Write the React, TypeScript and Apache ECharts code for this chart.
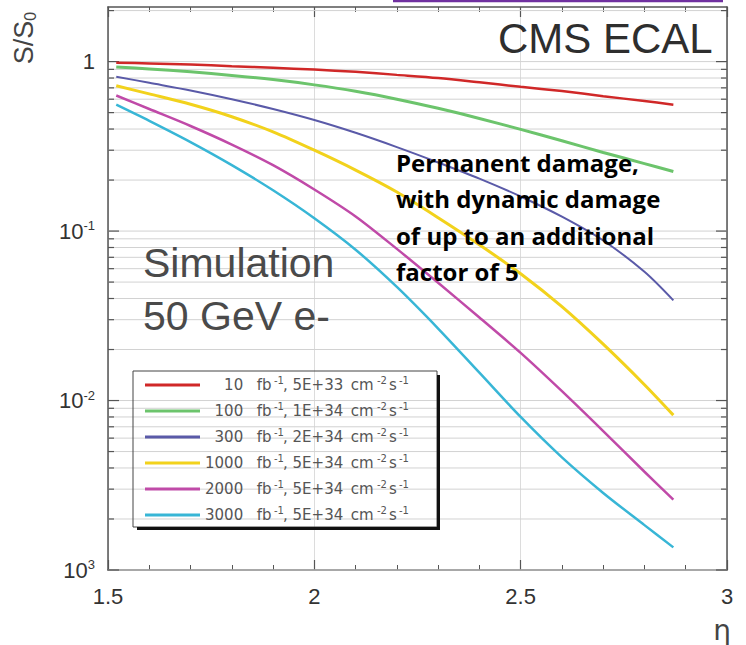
import React, { useEffect, useRef } from 'react';
import * as echarts from 'echarts';

// eta values at which curves are sampled
const eta = [1.52, 1.6, 1.7, 1.8, 1.9, 2.0, 2.1, 2.2, 2.3, 2.4, 2.5, 2.6, 2.7, 2.8, 2.87];

// S/S0 per scenario
const s10 = [0.986, 0.975, 0.96, 0.94, 0.92, 0.897, 0.87, 0.835, 0.8, 0.755, 0.71, 0.67, 0.625, 0.585, 0.557];
const s100 = [0.93, 0.905, 0.87, 0.829, 0.783, 0.729, 0.668, 0.6, 0.53, 0.462, 0.398, 0.341, 0.291, 0.25, 0.2245];
const s300 = [0.815, 0.75, 0.676, 0.6, 0.525, 0.452, 0.38, 0.313, 0.254, 0.204, 0.16, 0.1216, 0.088, 0.0575, 0.039];
const s1000 = [0.72, 0.645, 0.56, 0.473, 0.385, 0.3, 0.229, 0.17, 0.12, 0.083, 0.056, 0.0358, 0.0215, 0.0124, 0.0082];
const s2000 = [0.631, 0.525, 0.417, 0.324, 0.245, 0.176, 0.122, 0.0785, 0.0495, 0.0309, 0.0191, 0.01135, 0.0066, 0.0038, 0.0026];
const s3000 = [0.557, 0.447, 0.335, 0.245, 0.174, 0.119, 0.0776, 0.0468, 0.0266, 0.0146, 0.008, 0.00462, 0.00285, 0.00184, 0.00136];

const seriesValues = [s10, s100, s300, s1000, s2000, s3000];
const lumis = ['10', '100', '300', '1000', '2000', '3000'];
const rates = ['5E+33', '1E+34', '2E+34', '5E+34', '5E+34', '5E+34'];
const colors = ['#d02828', '#6cc46c', '#5a5aa8', '#f2d21c', '#c04aa8', '#38b6d6'];
const widths = [2.5, 3, 2, 3, 2.5, 2.5];

// axis ticks
const xTicks = [1.5, 2, 2.5, 3];
const yGridValues = [
  0.001, 0.002, 0.003, 0.004, 0.005, 0.006, 0.007, 0.008, 0.009,
  0.01, 0.02, 0.03, 0.04, 0.05, 0.06, 0.07, 0.08, 0.09,
  0.1, 0.2, 0.3, 0.4, 0.5, 0.6, 0.7, 0.8, 0.9,
  1, 2,
];
const yDecadeLabels: Record<string, string> = { '-3': '3', '-2': '-2', '-1': '-1' };

const annotationLines = ['Permanent damage,', 'with dynamic damage', 'of up to an additional', 'factor of 5'];

export default function App() {
  const ref = useRef<HTMLDivElement>(null);
  useEffect(() => {
    if (!ref.current) return;
    const chart = echarts.init(ref.current, null, { renderer: 'svg' });
    const names = lumis.map((l, i) => `${l} fb-1, ${rates[i]} cm-2s-1`);
    const xMin = xTicks[0];
    const xMax = xTicks[xTicks.length - 1];
    const yMin = 0.001;
    const yMax = 2.1;

    const axisColor = '#555';
    const xAxisCommon = {
      type: 'value',
      min: xMin,
      max: xMax,
      interval: 0.5,
      axisLine: { show: true, onZero: false, lineStyle: { color: axisColor, width: 1.5 } },
      axisTick: { show: true, inside: true, length: 10, lineStyle: { color: axisColor, width: 1.2 } },
      minorTick: { show: true, splitNumber: 5, length: 5, lineStyle: { color: axisColor, width: 1 } },
    };

    const legendFont = 'DejaVu Sans';
    const legendColor = '#555';
    const big = { fontSize: 15, fontFamily: legendFont, color: legendColor, lineHeight: 20 };
    const small = { fontSize: 10, fontFamily: legendFont, color: legendColor, lineHeight: 10, verticalAlign: 'top' };

    const option: any = {
      animation: false,
      backgroundColor: '#fff',
      grid: { left: 108, right: 19, top: 7, bottom: 75, containLabel: false },
      xAxis: [
        {
          ...xAxisCommon,
          position: 'bottom',
          axisLabel: {
            show: true,
            margin: 15,
            fontSize: 22,
            fontFamily: 'Liberation Sans',
            color: '#333',
            formatter: (v: number) => String(v),
          },
          splitLine: { show: true, lineStyle: { color: '#dcdcdc', width: 1 } },
        },
        {
          ...xAxisCommon,
          position: 'top',
          axisLabel: { show: false },
          splitLine: { show: false },
        },
      ],
      yAxis: [
        {
          type: 'log',
          logBase: 10,
          min: yMin,
          max: yMax,
          position: 'left',
          axisLine: { show: true, lineStyle: { color: axisColor, width: 1.5 } },
          axisTick: { show: false },
          splitLine: { show: false },
          axisLabel: {
            show: true,
            margin: 13,
            showMaxLabel: false,
            formatter: (v: number) => {
              const lg = Math.log10(v);
              const e = Math.round(lg);
              if (Math.abs(lg - e) > 1e-6 || e > 0) return '';
              if (e === 0) return '{n|1}';
              return `{n|10}{s|${yDecadeLabels[String(e)]}}`;
            },
            rich: {
              n: { fontSize: 22, fontFamily: 'Liberation Sans', color: '#333', lineHeight: 24 },
              s: { fontSize: 13, fontFamily: 'Liberation Sans', color: '#333', lineHeight: 12, verticalAlign: 'top' },
            },
          },
        },
        {
          type: 'log',
          logBase: 10,
          min: yMin,
          max: yMax,
          position: 'right',
          axisLine: { show: true, lineStyle: { color: axisColor, width: 1.5 } },
          axisTick: { show: false },
          splitLine: { show: false },
          axisLabel: { show: false },
        },
      ],
      legend: {
        data: names,
        orient: 'vertical',
        left: 145,
        top: 375,
        padding: 0,
        itemGap: 6,
        itemWidth: 55,
        itemHeight: 3,
        icon: 'rect',
        selectedMode: false,
        formatter: (name: string) => {
          const i = names.indexOf(name);
          const num = '\u2007'.repeat(Math.max(0, 4 - lumis[i].length)) + lumis[i];
          return `{num|${num}}{fb| fb}{sup1|-1}{rate|, ${rates[i]}}{cm| cm}{sup2|-2}{s|s}{sup|-1}`;
        },
        textStyle: {
          lineHeight: 20,
          rich: {
            num: { ...big, width: 47 },
            fb: { ...big, width: 22 },
            sup1: { ...small, width: 9 },
            rate: { ...big, width: 63 },
            cm: { ...big, width: 31 },
            sup2: { ...small, width: 12 },
            s: { ...big, width: 10 },
            sup: { ...small },
          },
        },
      },
      series: [
        {
          type: 'custom',
          name: 'grid',
          xAxisIndex: 0,
          yAxisIndex: 0,
          z: 1,
          silent: true,
          data: yGridValues.map((v) => [xMin, v]),
          renderItem: (params: any, api: any) => {
            const v = api.value(1);
            const p0 = api.coord([xMin, v]);
            const p1 = api.coord([xMax, v]);
            const lg = Math.log10(v);
            const major = Math.abs(lg - Math.round(lg)) < 1e-6;
            const tl = major ? 11 : 6;
            return {
              type: 'group',
              children: [
                {
                  type: 'line',
                  shape: { x1: p0[0], y1: p0[1], x2: p1[0], y2: p1[1] },
                  style: { stroke: '#d2d2d2', lineWidth: 1 },
                },
                {
                  type: 'line',
                  shape: { x1: p0[0], y1: p0[1], x2: p0[0] + tl, y2: p0[1] },
                  style: { stroke: axisColor, lineWidth: 1.2 },
                },
                {
                  type: 'line',
                  shape: { x1: p1[0] - tl, y1: p1[1], x2: p1[0], y2: p1[1] },
                  style: { stroke: axisColor, lineWidth: 1.2 },
                },
              ],
            };
          },
        },
        ...seriesValues.map((vals, i) => ({
          type: 'line',
          name: names[i],
          xAxisIndex: 0,
          yAxisIndex: 0,
          z: 3,
          smooth: 0.3,
          symbol: 'none',
          color: colors[i],
          lineStyle: { color: colors[i], width: widths[i] },
          data: eta.map((x, j) => [x, vals[j]]),
        })),
      ],
      graphic: [
        {
          type: 'line',
          z: 10,
          shape: { x1: 393, y1: 1, x2: 723, y2: 1 },
          style: { stroke: '#7030a0', lineWidth: 2.5 },
        },
        {
          type: 'text',
          z: 10,
          x: 498,
          y: 38,
          style: {
            text: 'CMS ECAL',
            font: '42px "Liberation Sans"',
            fill: '#2e2e2e',
            verticalAlign: 'middle',
            align: 'left',
          },
        },
        {
          type: 'text',
          z: 10,
          x: 143,
          y: 263,
          style: { text: 'Simulation', font: '41px "Liberation Sans"', fill: '#4a4a4a', verticalAlign: 'middle' },
        },
        {
          type: 'text',
          z: 10,
          x: 143,
          y: 316,
          style: { text: '50 GeV e-', font: '41px "Liberation Sans"', fill: '#4a4a4a', verticalAlign: 'middle' },
        },
        {
          type: 'text',
          z: 10,
          x: 396,
          y: 144,
          style: {
            text: annotationLines.join('\n'),
            font: 'bold 24px "Open Sans"',
            fill: '#000',
            lineHeight: 36.5,
            verticalAlign: 'top',
          },
        },
        {
          type: 'text',
          z: 10,
          x: 24,
          y: 38,
          rotation: Math.PI / 2,
          style: {
            text: '{a|S/S}{b|0}',
            align: 'center',
            verticalAlign: 'middle',
            rich: {
              a: { fontSize: 27, fontFamily: 'Liberation Sans', fill: '#444', lineHeight: 28 },
              b: { fontSize: 16, fontFamily: 'Liberation Sans', fill: '#444', lineHeight: 13, verticalAlign: 'bottom' },
            },
          },
        },
        {
          type: 'text',
          z: 10,
          x: 722,
          y: 630,
          style: { text: 'η', font: '28px "DejaVu Sans"', fill: '#444', align: 'center', verticalAlign: 'middle' },
        },
        {
          type: 'rect',
          z: 10,
          shape: { x: 133, y: 371, width: 304, height: 156 },
          style: { fill: 'none', stroke: '#444', lineWidth: 1 },
        },
        {
          type: 'line',
          z: 10,
          shape: { x1: 137, y1: 528.5, x2: 439, y2: 528.5 },
          style: { stroke: '#111', lineWidth: 3 },
        },
        {
          type: 'line',
          z: 10,
          shape: { x1: 438.5, y1: 375, x2: 438.5, y2: 530 },
          style: { stroke: '#111', lineWidth: 3 },
        },
      ],
    };
    chart.setOption(option);
    return () => chart.dispose();
  }, []);
  return (
    <div
      ref={ref}
      style={{ position: 'absolute', left: 0, top: 0, width: 746, height: 645, background: '#fff' }}
    />
  );
}
